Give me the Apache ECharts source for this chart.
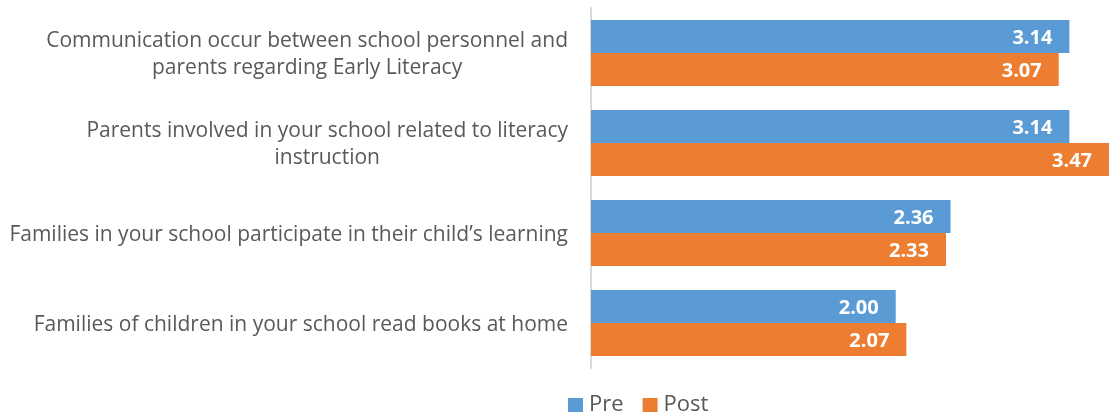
<!DOCTYPE html>
<html>
<head>
<meta charset="utf-8">
<script src="https://cdn.jsdelivr.net/npm/echarts@6/dist/echarts.min.js"></script>
<style>
  html, body { margin: 0; padding: 0; background: #fff; }
  #chart { width: 1109px; height: 415px; }
</style>
</head>
<body>
<div id="chart"></div>
<script>
var categories = [
    'Communication occur between school personnel and\nparents regarding Early Literacy',
    'Parents involved in your school related to literacy\ninstruction',
    'Families in your school participate in their child\u2019s learning',
    'Families of children in your school read books at home'
];
var preValues = [3.14, 3.14, 2.36, 2.00];
var postValues = [3.07, 3.47, 2.33, 2.07];

var font = '"Open Sans", sans-serif';

var barLabel = {
    show: true,
    position: 'insideRight',
    distance: 17,
    offset: [0, 2],
    color: '#fff',
    fontFamily: font,
    fontWeight: 'bold',
    fontSize: 20,
    formatter: function (p) { return p.value.toFixed(2); }
};

var chart = echarts.init(document.getElementById('chart'));
chart.setOption({
    animation: false,
    grid: {
        left: 591,
        right: 0,
        top: 8,
        bottom: 47
    },
    legend: {
        data: ['Pre', 'Post'],
        left: 563,
        top: 389,
        itemWidth: 15,
        itemHeight: 14,
        itemGap: 19,
        icon: 'rect',
        textStyle: {
            color: '#595959',
            fontFamily: font,
            fontSize: 22,
            padding: [0, 0, 0, 1]
        }
    },
    xAxis: {
        type: 'value',
        min: 0,
        max: 3.4,
        show: false
    },
    yAxis: {
        type: 'category',
        data: categories,
        inverse: true,
        axisLine: { lineStyle: { color: '#d9d9d9', width: 2 } },
        axisTick: { show: false },
        axisLabel: {
            margin: 23,
            padding: [4, 0, 0, 0],
            formatter: function (v) {
                return v.split('\n').map(function (l) { return '{c|' + l + '}'; }).join('\n');
            },
            rich: {
                c: {
                    align: 'center',
                    color: '#595959',
                    fontFamily: font,
                    fontSize: 21,
                    lineHeight: 27
                }
            }
        }
    },
    series: [{
        name: 'Pre',
        type: 'bar',
        data: preValues,
        barWidth: 33,
        barGap: '0%',
        itemStyle: { color: '#5B9BD5' },
        label: barLabel
    }, {
        name: 'Post',
        type: 'bar',
        data: postValues,
        barWidth: 33,
        barGap: '0%',
        itemStyle: { color: '#ED7D31' },
        label: barLabel
    }]
});
</script>
</body>
</html>
